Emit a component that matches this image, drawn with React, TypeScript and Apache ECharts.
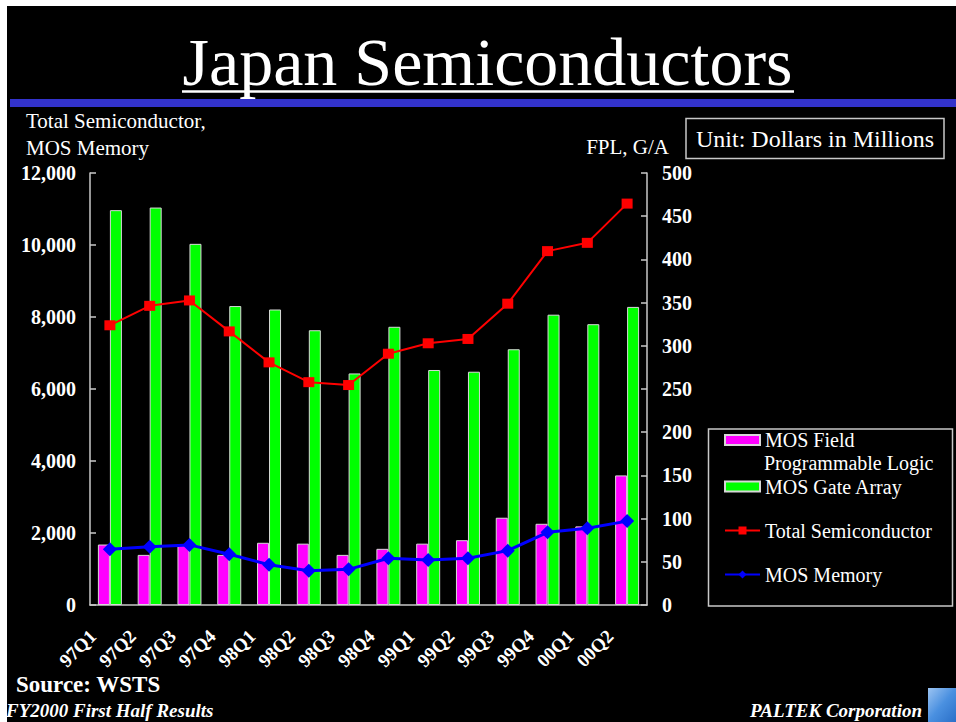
import React, { useEffect, useRef } from "react";
import * as echarts from "echarts";

const categories = ["97Q1", "97Q2", "97Q3", "97Q4", "98Q1", "98Q2", "98Q3", "98Q4", "99Q1", "99Q2", "99Q3", "99Q4", "00Q1", "00Q2"];
// right axis (FPL, G/A)
const fplValues = [70, 58, 69, 58, 72, 71, 58, 65, 71, 75, 101, 94, 91, 150];
const gateArrayValues = [457, 460, 418, 346, 342, 318, 268, 322, 272, 270, 296, 336, 325, 345];
// left axis (Total Semiconductor, MOS Memory)
const totalSemiValues = [7770, 8310, 8460, 7600, 6740, 6190, 6110, 6980, 7270, 7390, 8370, 9830, 10060, 11150];
const mosMemoryValues = [1550, 1620, 1670, 1410, 1120, 950, 990, 1300, 1250, 1300, 1510, 2020, 2130, 2330];

const SERIF = "'Liberation Serif', 'Times New Roman', serif";
const AXIS_GRAY = "#c8c8c8";

export default function App() {
  const ref = useRef<HTMLDivElement>(null);

  useEffect(() => {
    if (!ref.current) return;
    const chart = echarts.init(ref.current, null, { renderer: "svg" });
    const option = {
      animation: false,
      backgroundColor: "#ffffff",
      grid: { left: 90, right: 309, top: 173, bottom: 117, containLabel: false },
      legend: [
        {
          data: [{ name: "MOS Field Programmable Logic", icon: "rect" }],
          orient: "vertical",
          left: 724,
          top: 430,
          padding: 0,
          itemWidth: 35,
          itemHeight: 10,
          itemGap: 5,
          formatter: () => "MOS Field",
          textStyle: { color: "#ffffff", fontFamily: SERIF, fontSize: 20, lineHeight: 20 },
          selectedMode: false,
        },
        {
          data: [
            { name: "MOS Gate Array", icon: "rect" },
            { name: "Total Semiconductor" },
            { name: "MOS Memory" },
          ],
          orient: "vertical",
          left: 724,
          top: 476.5,
          padding: 0,
          itemWidth: 35,
          itemHeight: 10,
          itemGap: 24,
          textStyle: { color: "#ffffff", fontFamily: SERIF, fontSize: 20, lineHeight: 20 },
          selectedMode: false,
        },
      ],
      xAxis: {
        type: "category",
        data: categories,
        boundaryGap: true,
        axisLine: { lineStyle: { color: AXIS_GRAY, width: 1.5 } },
        axisTick: { inside: true, length: 5, lineStyle: { color: AXIS_GRAY, width: 1.5 } },
        axisLabel: {
          rotate: 45,
          interval: 0,
          margin: 11,
          padding: [0, 24, 0, 0],
          color: "#ffffff",
          fontFamily: SERIF,
          fontWeight: "bold",
          fontSize: 19,
        },
        splitLine: { show: false },
      },
      yAxis: [
        {
          type: "value",
          min: 0,
          max: 12000,
          interval: 2000,
          position: "left",
          axisLine: { show: true, lineStyle: { color: AXIS_GRAY, width: 1.5 } },
          axisTick: { show: true, inside: true, length: 6, lineStyle: { color: AXIS_GRAY, width: 1.5 } },
          splitLine: { show: false },
          axisLabel: {
            margin: 14,
            color: "#ffffff",
            fontFamily: SERIF,
            fontWeight: "bold",
            fontSize: 20,
            formatter: (v: number) => v.toLocaleString("en-US"),
          },
        },
        {
          type: "value",
          min: 0,
          max: 500,
          interval: 50,
          position: "right",
          axisLine: { show: true, lineStyle: { color: AXIS_GRAY, width: 1.5 } },
          axisTick: { show: true, inside: true, length: 6, lineStyle: { color: AXIS_GRAY, width: 1.5 } },
          splitLine: { show: false },
          axisLabel: {
            margin: 15,
            color: "#ffffff",
            fontFamily: SERIF,
            fontWeight: "bold",
            fontSize: 20,
          },
        },
      ],
      series: [
        {
          name: "MOS Field Programmable Logic",
          type: "bar",
          yAxisIndex: 1,
          data: fplValues,
          barWidth: 12,
          barGap: "0%",
          itemStyle: { color: "#ff00ff", borderColor: "#d8d8d8", borderWidth: 1 },
        },
        {
          name: "MOS Gate Array",
          type: "bar",
          yAxisIndex: 1,
          data: gateArrayValues,
          barWidth: 12,
          barGap: "0%",
          itemStyle: { color: "#00ff00", borderColor: "#d8d8d8", borderWidth: 1 },
        },
        {
          name: "Total Semiconductor",
          type: "line",
          yAxisIndex: 0,
          z: 3,
          data: totalSemiValues,
          symbol: "rect",
          symbolSize: [11, 10],
          lineStyle: { color: "#ff0000", width: 2 },
          itemStyle: { color: "#ff0000" },
        },
        {
          name: "MOS Memory",
          type: "line",
          yAxisIndex: 0,
          z: 4,
          data: mosMemoryValues,
          symbol: "diamond",
          symbolSize: 14,
          lineStyle: { color: "#0000ff", width: 3 },
          itemStyle: { color: "#0000ff" },
        },
      ],
      graphic: [
        { type: "rect", z: -10, shape: { x: 7, y: 6, width: 949, height: 716 }, style: { fill: "#000000" } },
        { type: "rect", shape: { x: 10, y: 99, width: 946, height: 8 }, style: { fill: "#3333cc" } },
        {
          type: "text",
          x: 487.5,
          y: 62,
          style: { text: "Japan Semiconductors", fill: "#ffffff", font: `68px ${SERIF}`, align: "center", verticalAlign: "middle" },
        },
        { type: "line", shape: { x1: 182, y1: 91.5, x2: 794, y2: 91.5 }, style: { stroke: "#ffffff", lineWidth: 2.5 } },
        {
          type: "text",
          x: 26,
          y: 121,
          style: { text: "Total Semiconductor,", fill: "#ffffff", font: `21px ${SERIF}`, align: "left", verticalAlign: "middle" },
        },
        {
          type: "text",
          x: 26,
          y: 148,
          style: { text: "MOS Memory", fill: "#ffffff", font: `21px ${SERIF}`, align: "left", verticalAlign: "middle" },
        },
        {
          type: "text",
          x: 669,
          y: 147,
          style: { text: "FPL, G/A", fill: "#ffffff", font: `21px ${SERIF}`, align: "right", verticalAlign: "middle" },
        },
        {
          type: "rect",
          shape: { x: 686, y: 118.5, width: 258, height: 40 },
          style: { fill: "#000000", stroke: AXIS_GRAY, lineWidth: 1.5 },
        },
        {
          type: "text",
          x: 815,
          y: 138.5,
          style: { text: "Unit: Dollars in Millions", fill: "#ffffff", font: `24px ${SERIF}`, align: "center", verticalAlign: "middle" },
        },
        {
          type: "rect",
          shape: { x: 708.5, y: 429, width: 244, height: 177 },
          style: { fill: "#000000", stroke: AXIS_GRAY, lineWidth: 1.5 },
        },
        {
          type: "text",
          x: 764,
          y: 463.2,
          style: { text: "Programmable Logic", fill: "#ffffff", font: `20px ${SERIF}`, align: "left", verticalAlign: "middle" },
        },
        {
          type: "text",
          x: 16,
          y: 684,
          style: { text: "Source: WSTS", fill: "#ffffff", font: `bold 23px ${SERIF}`, align: "left", verticalAlign: "middle" },
        },
        {
          type: "text",
          x: 6,
          y: 710,
          style: { text: "FY2000 First Half Results", fill: "#ffffff", font: `italic bold 19px ${SERIF}`, align: "left", verticalAlign: "middle" },
        },
        {
          type: "text",
          x: 922,
          y: 710,
          style: { text: "PALTEK Corporation", fill: "#ffffff", font: `italic bold 19px ${SERIF}`, align: "right", verticalAlign: "middle" },
        },
        {
          type: "rect",
          shape: { x: 928, y: 688, width: 28, height: 34 },
          style: {
            fill: {
              type: "linear",
              x: 0,
              y: 0,
              x2: 1,
              y2: 1,
              colorStops: [
                { offset: 0, color: "#9cc4f2" },
                { offset: 0.5, color: "#4a90e0" },
                { offset: 1, color: "#2a6fc8" },
              ],
            },
          },
        },
      ],
    };
    chart.setOption(option as any);
    return () => chart.dispose();
  }, []);

  return <div ref={ref} style={{ position: "absolute", left: 0, top: 0, width: 956, height: 722 }} />;
}
